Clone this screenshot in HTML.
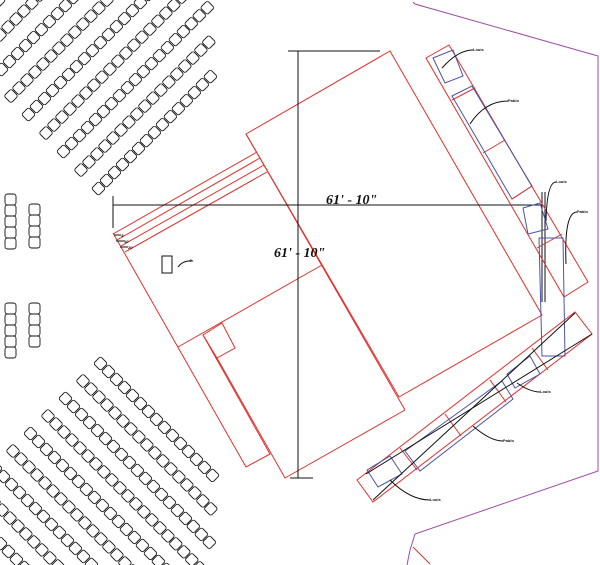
<!DOCTYPE html>
<html><head><meta charset="utf-8"><style>
html,body{margin:0;padding:0;background:#fff}
svg{display:block}
.r{stroke:#e0302c;fill:none;stroke-width:1}
.b{stroke:#4a55a8;fill:none;stroke-width:1}
.k{stroke:#111;fill:none;stroke-width:1}
.p{stroke:#a04aa8;fill:none;stroke-width:1}
.lab{font-family:"Liberation Sans",sans-serif;font-size:4px;font-weight:bold;fill:#111}
.dim{font-family:"Liberation Serif",serif;font-size:14px;font-weight:bold;font-style:italic;fill:#111}
</style></head><body>
<svg id="s" width="600" height="565" viewBox="0 0 600 565" xmlns="http://www.w3.org/2000/svg">
<g id="seats" stroke="#111" fill="none" stroke-width="0.9"></g>
<!-- purple boundary -->
<polyline class="p" points="413,2 415,4 598,56 598,471 415,534 410,550 407,565"/>
<line class="r" x1="413" y1="547" x2="430" y2="564"/>
<!-- stage -->
<polygon class="r" points="246,134 390,51 542,315 399,397"/>
<line class="r" x1="246" y1="134" x2="405" y2="410"/>
<line class="r" x1="322" y1="265" x2="178" y2="347"/>
<polyline class="r" points="113,233 246,467 270,454 203,335"/>
<polygon class="r" points="203,335 222,323 235,348 217,358"/>
<polyline class="r" points="217,358 285,478 405,410"/>
<!-- stairs -->
<line class="r" x1="113" y1="234" x2="257" y2="152"/>
<line class="r" x1="117" y1="240" x2="260" y2="158"/>
<line class="r" x1="121" y1="246" x2="264" y2="165"/>
<line class="r" x1="125" y1="252" x2="267" y2="172"/>
<g class="k" stroke-width="0.6">
<path d="M114,235 L121,235 M116,241 L125,241 M120,247 L128,247"/>
</g>
<text class="lab" x="121" y="237">4'</text><text class="lab" x="124" y="243">10'</text><text class="lab" x="128" y="249">20'</text>
<rect class="k" x="162" y="256" width="10" height="17" stroke-width="0.8"/>
<path class="k" d="M178,267 Q183,260 193,261" stroke-width="0.8"/>
<text class="lab" x="189" y="262">4'</text>
<!-- dimensions -->
<line class="k" x1="298" y1="51" x2="298" y2="478" stroke="#333"/>
<line class="k" x1="288" y1="51" x2="380" y2="51"/>
<line class="k" x1="290" y1="478" x2="313" y2="478"/>
<line class="k" x1="113" y1="205" x2="543" y2="205"/>
<line class="k" x1="113" y1="196" x2="113" y2="228"/>
<line class="k" x1="542" y1="192" x2="542" y2="302"/>
<line class="k" x1="545" y1="192" x2="545" y2="302"/>
<text class="dim" x="326" y="204">61' - 10"</text>
<text class="dim" x="274" y="257">61' - 10"</text>
<!-- upper right strip -->
<polygon class="r" points="426,58 449,45 588,282 564,297"/>
<line class="r" x1="452" y1="100" x2="475" y2="88"/>
<line class="r" x1="483" y1="153" x2="505" y2="140"/>
<line class="r" x1="537" y1="248" x2="562" y2="234"/>
<polygon class="b" points="433,58 453,50 463,76 445,83"/>
<polygon class="b" points="452,96 472,86 532,186 512,199"/>
<line class="r" x1="512" y1="199" x2="532" y2="186"/>
<polygon class="b" points="523,208 540,203 548,229 528,234"/>
<polygon class="b" points="539,238 563,238 565,356 542,356"/>
<path class="k" d="M442,68 Q458,50 473,50" stroke-width="0.8"/><text class="lab" x="473" y="51">Louis</text>
<path class="k" d="M470,124 Q485,101 508,101" stroke-width="0.8"/><text class="lab" x="508" y="102">Pablo</text>
<path class="k" d="M546,221 Q547,182 556,182" stroke-width="0.8"/><text class="lab" x="556" y="183">Louis</text>
<path class="k" d="M566,264 Q564,212 577,212" stroke-width="0.8"/><text class="lab" x="577" y="213">Pablo</text>
<!-- lower strip -->
<polygon class="r" points="357,480 575,312 592,334 373,502"/>
<line class="r" x1="400" y1="448" x2="417" y2="470"/>
<line class="r" x1="445" y1="414" x2="461" y2="436"/>
<line class="r" x1="490" y1="380" x2="506" y2="402"/>
<line class="r" x1="532" y1="348" x2="548" y2="370"/>
<polygon class="b" points="367,470 390,456 402,474 378,487"/>
<polygon class="b" points="405,451 502,381 513,399 420,471"/>
<polygon class="b" points="507,374 530,356 540,374 515,388"/>
<line class="k" x1="366" y1="474" x2="592" y2="334"/>
<line class="k" x1="373" y1="500" x2="575" y2="313"/>
<path class="k" d="M517,383 Q530,392 540,392" stroke-width="0.8"/><text class="lab" x="540" y="393">Louis</text>
<path class="k" d="M473,426 Q490,441 503,441" stroke-width="0.8"/><text class="lab" x="503" y="442">Pablo</text>
<path class="k" d="M390,480 Q410,500 430,500" stroke-width="0.8"/><text class="lab" x="430" y="501">Louis</text>
</svg>
<script>
(function(){
var g=document.getElementById('seats'),NS='http://www.w3.org/2000/svg',out='';
function chair(x,y,a){out+='<rect x="'+(-5)+'" y="'+(-5)+'" width="10" height="10" rx="2.2" transform="translate('+x.toFixed(1)+','+y.toFixed(1)+') rotate('+a+')"/>';}
var p=11.3/Math.SQRT2;
for(var i=0;i<16;i++){
 var lx=95-17.5*i, ly=192-18.5*i;
 for(var k=0;k<40;k++){var cx=lx+p*k+3.5, cy=ly-p*k-3.5; if(cx>214||cy<-8)break; if(cx<-8)continue; chair(cx,cy,-45);}
 var bx=97-17.5*i, by=360+17.5*i;
 for(var k=0;k<40;k++){var cx=bx+p*k+3.5, cy=by+p*k+3.5; if(cx>214||cy>573)break; if(cx<-8)continue; chair(cx,cy,45);}
}
function col(x,y,n){for(var j=0;j<n;j++)out+='<rect x="'+x+'" y="'+(y+j*11)+'" width="11" height="11" rx="2.5"/>';}
col(5,194,5);col(29,204,4);col(5,303,5);col(29,303,4);
g.innerHTML=out;
})();
</script>
</body></html>
